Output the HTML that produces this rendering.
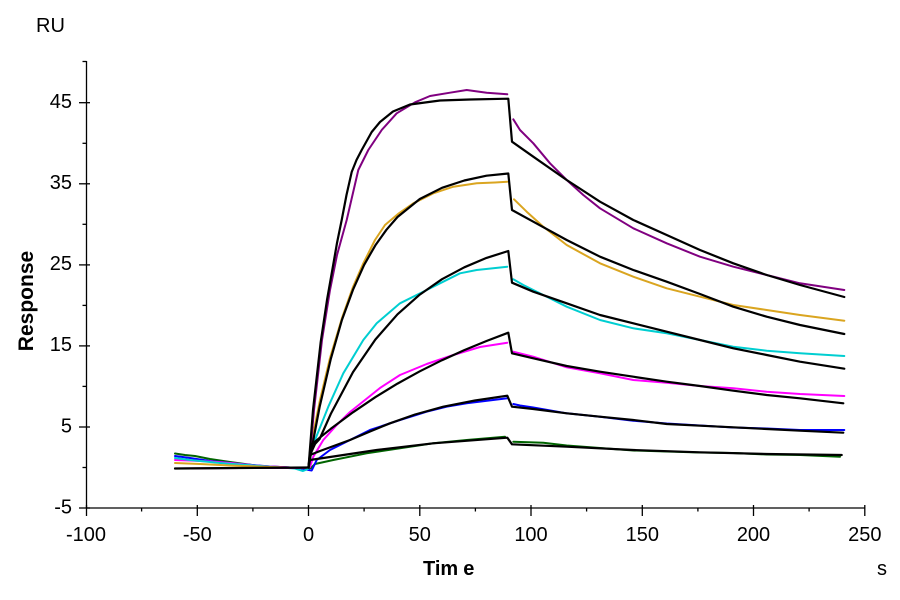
<!DOCTYPE html>
<html><head><meta charset="utf-8"><style>
html,body{margin:0;padding:0;background:#fff;}
svg{display:block;}
text{font-family:"Liberation Sans",Arial,sans-serif;fill:#000;}
.d{fill:none;stroke-width:2;stroke-linejoin:round;stroke-linecap:round;}
.f{fill:none;stroke:#000;stroke-width:2.2;stroke-linejoin:round;stroke-linecap:round;}
</style></head><body>
<svg width="900" height="600" viewBox="0 0 900 600" xmlns="http://www.w3.org/2000/svg">
<rect width="900" height="600" fill="#fff"/>
<!-- axes -->
<g stroke="#000" stroke-width="1.3" fill="none">
<line x1="86.5" y1="61" x2="86.5" y2="508"/>
<line x1="86" y1="508" x2="865" y2="508"/>
<!-- y major -->
<line x1="79" y1="102.7" x2="90" y2="102.7"/>
<line x1="79" y1="183.8" x2="90" y2="183.8"/>
<line x1="79" y1="264.9" x2="90" y2="264.9"/>
<line x1="79" y1="345.9" x2="90" y2="345.9"/>
<line x1="79" y1="427" x2="90" y2="427"/>
<line x1="79" y1="508" x2="90" y2="508"/>
<!-- y minor -->
<line x1="82.5" y1="61.5" x2="86.5" y2="61.5"/>
<line x1="82.5" y1="143.3" x2="86.5" y2="143.3"/>
<line x1="82.5" y1="224.3" x2="86.5" y2="224.3"/>
<line x1="82.5" y1="305.4" x2="86.5" y2="305.4"/>
<line x1="82.5" y1="386.4" x2="86.5" y2="386.4"/>
<line x1="82.5" y1="467.5" x2="86.5" y2="467.5"/>
<!-- x major -->
<line x1="86.5" y1="505" x2="86.5" y2="516"/>
<line x1="197.3" y1="505" x2="197.3" y2="516"/>
<line x1="308.5" y1="505" x2="308.5" y2="516"/>
<line x1="419.8" y1="505" x2="419.8" y2="516"/>
<line x1="531" y1="505" x2="531" y2="516"/>
<line x1="642.3" y1="505" x2="642.3" y2="516"/>
<line x1="753.5" y1="505" x2="753.5" y2="516"/>
<line x1="864.8" y1="505" x2="864.8" y2="516"/>
<!-- x minor -->
<line x1="141.6" y1="508" x2="141.6" y2="511.5"/>
<line x1="252.9" y1="508" x2="252.9" y2="511.5"/>
<line x1="364.1" y1="508" x2="364.1" y2="511.5"/>
<line x1="475.4" y1="508" x2="475.4" y2="511.5"/>
<line x1="586.6" y1="508" x2="586.6" y2="511.5"/>
<line x1="697.9" y1="508" x2="697.9" y2="511.5"/>
<line x1="809.1" y1="508" x2="809.1" y2="511.5"/>
</g>
<!-- labels -->
<text x="36" y="32" font-size="20">RU</text>
<g font-size="20" text-anchor="end">
<text x="72" y="108">45</text>
<text x="72" y="189">35</text>
<text x="72" y="270">25</text>
<text x="72" y="351">15</text>
<text x="72" y="432.5">5</text>
<text x="72" y="513.5">-5</text>
</g>
<g font-size="20" text-anchor="middle">
<text x="86" y="541">-100</text>
<text x="197.3" y="541">-50</text>
<text x="308.5" y="541">0</text>
<text x="419.8" y="541">50</text>
<text x="531" y="541">100</text>
<text x="642.3" y="541">150</text>
<text x="753.5" y="541">200</text>
<text x="864.8" y="541">250</text>
</g>
<text x="423" y="575" font-size="20" font-weight="bold">Tim<tspan dx="5">e</tspan></text>
<text x="877" y="575" font-size="20">s</text>
<text transform="translate(33,301) rotate(-90)" font-size="21" font-weight="bold" text-anchor="middle">Response</text>

<!-- data curves -->
<!-- green -->
<path class="d" stroke="#006400" d="M175,453.5 L185,455 L195,456 L210,459 L230,462 L260,466 L290,467.5 L305,468 L311,468 L315,464 L333.3,460 L366.7,453.3 L400,448.3 L433.3,443.3 L466.7,440 L505,436.7"/>
<path class="d" stroke="#006400" d="M513.3,441.7 L543.3,442.7 L566.7,445.5 L600,448 L633.3,450.5 L666.7,451.5 L700,452.5 L733.3,453 L766.7,454.5 L800,455 L840,456.7"/>
<!-- blue -->
<path class="d" stroke="#0000ff" d="M175,456 L190,458 L210,461 L240,464 L270,466.5 L300,468 L306,469.5 L311.7,470.5 L316.7,460 L330,450 L350,440 L370,430 L400,420 L426.7,411.7 L446.7,406.7 L466.7,403.3 L507.3,398.3"/>
<path class="d" stroke="#0000ff" d="M513.3,404 L520,405.5 L533.3,407.5 L566.7,413.3 L600,416.7 L633.3,420.7 L666.7,423.5 L700,425.5 L733.3,427.5 L766.7,428.5 L800,430 L844.3,430"/>
<!-- magenta -->
<path class="d" stroke="#ff00ff" d="M175,460 L190,460.5 L210,461.5 L230,463 L260,466 L290,467.5 L305,468 L310,467 L313.3,456.7 L323.3,440 L336.7,425 L350,412 L365,400 L380,388 L400,375 L426.7,364 L453.3,355 L480,347 L507.3,342.7"/>
<path class="d" stroke="#ff00ff" d="M513.3,351.7 L533.3,356.7 L566.7,367.3 L600,373.3 L633.3,380 L666.7,382.7 L700,386 L733.3,388.3 L766.7,391.7 L800,394 L844.3,396"/>
<!-- cyan -->
<path class="d" stroke="#00ced1" d="M175,458 L190,460 L220,463 L260,466 L295,468.5 L303,471 L308,469 L311.7,450 L315,440 L328.3,406.7 L343.3,373.3 L363.3,340 L376.7,323.3 L400,303.3 L426.7,290 L440,283.3 L460,273.3 L476.7,270 L507.3,266.7"/>
<path class="d" stroke="#00ced1" d="M513.3,279.3 L523.3,285 L543.3,295 L566.7,306.7 L600,320 L633.3,328.3 L666.7,333.3 L700,340 L733.3,346.7 L766.7,350.7 L800,353.3 L844.3,356"/>
<!-- orange -->
<path class="d" stroke="#daa520" d="M175,463 L200,464 L230,465.5 L270,467 L305,468 L309,467 L312,440 L320,400 L330,358 L342,318 L353,287 L363,264 L375,240 L385,225 L398,214 L413.3,203.3 L433.3,193.3 L453.3,186.7 L476.7,183.3 L495,182.5 L507.3,181.7"/>
<path class="d" stroke="#daa520" d="M514,199.3 L526.7,211.7 L543.3,226.7 L566.7,245 L600,263.3 L633.3,276.7 L666.7,288.3 L700,296.7 L733.3,305 L766.7,310 L800,315 L844.3,320.7"/>
<!-- purple -->
<path class="d" stroke="#800080" d="M175,468.5 L240,468 L305,468 L309,467 L314,410 L322,340 L330,290 L337,255 L346.7,220 L358.3,170 L368.3,150 L381.7,130 L396.7,113.3 L415,102.3 L430,96 L450,92.7 L466.7,90 L486.7,92.7 L507.3,94.3"/>
<path class="d" stroke="#800080" d="M513.3,119.3 L520,130 L533.3,143.3 L550,163.3 L566.7,180 L583.3,195 L600,208.3 L633.3,228.3 L666.7,243.3 L700,256.7 L733.3,266.7 L766.7,275 L800,283.3 L844.3,290"/>

<!-- fit curves (black) -->
<path class="f" d="M175,468.5 L308.5,467.5"/>
<path class="f" d="M308.5,467.5 L313,410 L320.7,342 L327,300 L332.3,270 L337,243 L341.7,220 L346.5,195 L351.7,172 L356.5,160 L361.7,150 L371.7,132 L380,122 L393,111.5 L410,104.5 L440,100.5 L470,99.5 L508.3,98.7 L512,141.7 L533.3,156.7 L566.7,180 L600,201.7 L633.3,220 L666.7,235 L700,250 L733.3,263.3 L766.7,275 L800,285 L844.3,297"/>
<path class="f" d="M308.5,467.5 L313,441.7 L319.6,407 L330.8,358.9 L341.9,320 L353,289.7 L364.1,264.9 L375.3,245.4 L386.4,229.8 L397.5,217 L419.8,199 L442,187.8 L464.3,180.5 L486.5,175.7 L508.3,173.5 L512,210 L533.3,221.7 L566.7,240 L600,256.7 L633.3,270 L666.7,281.7 L700,294 L733.3,306.7 L766.7,316.7 L800,325 L844.3,334"/>
<path class="f" d="M308.5,467.5 L310,455 L315,444 L319.6,439 L330.8,413.9 L353,372.1 L375.3,339.6 L397.5,314.3 L419.8,294.6 L442,279.2 L464.3,267.3 L486.5,257.9 L508.3,251 L512,282.7 L533.3,291.7 L566.7,303.3 L600,315 L633.3,323.3 L666.7,331.7 L700,340 L733.3,348.3 L766.7,355 L800,361.7 L844.3,368.7"/>
<path class="f" d="M308.5,467.5 L310.7,445.3 L319.6,437.8 L330.8,428.8 L353,412.3 L375.3,397.2 L397.5,383.6 L419.8,371.3 L442,360.2 L464.3,350.1 L486.5,341 L508.3,332.7 L512,353.3 L533.3,358.3 L566.7,366 L600,371.7 L633.3,376.7 L666.7,381.7 L700,386 L733.3,390.7 L766.7,395 L800,398.3 L843.3,403.3"/>
<path class="f" d="M308.5,467.5 L310,455 L320,451 L335,445.5 L350,440 L370,431.5 L390,423.3 L415,414.5 L443.3,406.7 L475,400.5 L507.3,395.7 L512,406.7 L533.3,409 L566.7,413.3 L600,416.7 L633.3,420 L666.7,424 L700,425.7 L733.3,427.3 L766.7,429 L800,430.7 L843.3,432.7"/>
<path class="f" d="M308.5,467.5 L310,460 L376.7,450 L433.3,443.3 L507.3,437.7 L512,444.3 L566.7,446.7 L633.3,450 L700,452.3 L766.7,454 L841.7,455"/>
</svg>
</body></html>
